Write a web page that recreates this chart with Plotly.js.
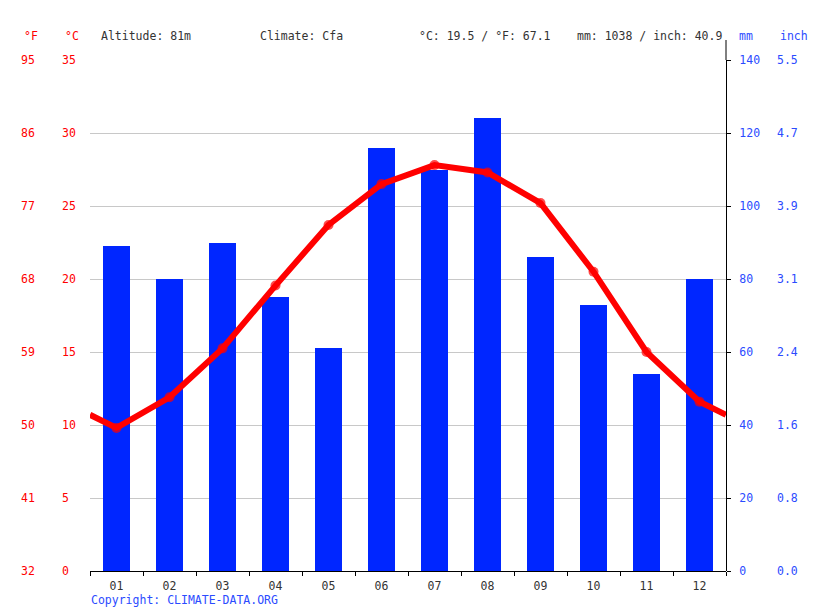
<!DOCTYPE html>
<html>
<head>
<meta charset="utf-8">
<script src="https://cdn.plot.ly/plotly-3.0.1.min.js"></script>
<style>html,body{margin:0;padding:0;background:#fff;}#chart{width:815px;height:611px;}</style>
</head>
<body>
<div id="chart"></div>
<script>
const months = ["01","02","03","04","05","06","07","08","09","10","11","12"];
const precipMm = [89, 80, 90, 75, 61, 116, 110, 124, 86, 73, 54, 80];
const tempC = [9.8, 11.9, 15.25, 19.55, 23.7, 26.5, 27.8, 27.3, 25.2, 20.5, 15.0, 11.6];
const cTicks = [0, 5, 10, 15, 20, 25, 30, 35];
const fTicks = [32, 41, 50, 59, 68, 77, 86, 95];
const mmTicks = [0, 20, 40, 60, 80, 100, 120, 140];
const inchTickText = ["0.0", "0.8", "1.6", "2.4", "3.1", "3.9", "4.7", "5.5"];

const W = 815, H = 611;
const L = 90, R = 726, T = 60, B = 571;
const px = v => v / W;
const py = v => (B - v) / (B - T);
const FONT = "DejaVu Sans Mono, monospace";
const RED = "#ff0000", BLUE = "#0026ff", LBLUE = "#2b4bff", GREY = "#333333";

const xNum = months.map((m, i) => i + 1);
const edge = (tempC[0] + tempC[11]) / 2;
const lineX = [0.5].concat(xNum, [12.5]);
const lineY = [edge].concat(tempC, [edge]);
const markerSizes = lineX.map((x, i) => (i === 0 || i === lineX.length - 1) ? 0 : 10);

const traces = [
  {type: "bar", x: xNum, y: precipMm, yaxis: "y", width: 0.52,
   marker: {color: BLUE, line: {width: 0}}, hoverinfo: "skip"},
  {type: "scatter", x: [1], y: [32], yaxis: "y3", mode: "markers", marker: {opacity: 0}, hoverinfo: "skip"},
  {type: "scatter", x: [1], y: [0], yaxis: "y4", mode: "markers", marker: {opacity: 0}, hoverinfo: "skip"},
  {type: "scatter", mode: "lines+markers", x: lineX, y: lineY, yaxis: "y2",
   line: {color: RED, width: 6}, marker: {color: RED, size: markerSizes, line: {width: 0}}, hoverinfo: "skip"}
];

const ann = (text, x, y, color) => ({text, x: px(x), y: py(y), xref: "paper", yref: "paper",
  xanchor: "left", yanchor: "middle", showarrow: false, font: {family: FONT, size: 11.5, color}});

const layout = {
  width: W, height: H,
  margin: {l: 0, r: 0, t: T, b: H - B, pad: 0},
  paper_bgcolor: "#fff", plot_bgcolor: "#fff",
  showlegend: false, bargap: 0,
  font: {family: FONT, size: 11.5},
  xaxis: {domain: [px(L), px(R)], range: [0.5, 12.5], tickvals: xNum, ticktext: months,
    ticks: "", showgrid: false, zeroline: false, showline: true, linecolor: "#000", linewidth: 1,
    tickfont: {family: FONT, size: 11.5, color: GREY}, ticklabelstandoff: 4,
    minor: {tickvals: xNum.map(v => v - 0.5).concat([12.5]), ticks: "outside", ticklen: 4, tickcolor: "#000", showgrid: false}},
  yaxis: {range: [0, 140], tickvals: mmTicks, anchor: "free", position: px(R), side: "right",
    showgrid: true, gridcolor: "#c8c8c8", gridwidth: 1, zeroline: false, showline: true, linecolor: "#000", linewidth: 1,
    ticks: "outside", ticklen: 4, tickcolor: "#000", ticklabelstandoff: 6,
    tickfont: {family: FONT, size: 11.5, color: LBLUE}},
  yaxis2: {range: [0, 35], tickvals: cTicks, overlaying: "y", anchor: "free", position: px(61), side: "right",
    showgrid: false, zeroline: false, showline: false, ticks: "",
    tickfont: {family: FONT, size: 11.5, color: RED}},
  yaxis3: {range: [32, 95], tickvals: fTicks, overlaying: "y", anchor: "free", position: px(20), side: "right",
    showgrid: false, zeroline: false, showline: false, ticks: "",
    tickfont: {family: FONT, size: 11.5, color: RED}},
  yaxis4: {range: [0, 140 / 25.4], tickvals: mmTicks.map(v => v / 25.4), ticktext: inchTickText,
    overlaying: "y", anchor: "free", position: px(776), side: "right",
    showgrid: false, zeroline: false, showline: false, ticks: "",
    tickfont: {family: FONT, size: 11.5, color: LBLUE}},
  shapes: [{type: "line", xref: "paper", yref: "paper", x0: px(R), x1: px(R), y0: py(T), y1: py(40),
    line: {color: "#000", width: 1}}],
  annotations: [
    ann("°F", 22, 36, RED),
    ann("°C", 63, 36, RED),
    ann("Altitude: 81m", 99, 36, GREY),
    ann("Climate: Cfa", 258, 36, GREY),
    ann("°C: 19.5 / °F: 67.1", 417, 36, GREY),
    ann("mm: 1038 / inch: 40.9", 575, 36, GREY),
    ann("mm", 737, 36, LBLUE),
    ann("inch", 778, 36, LBLUE),
    ann("Copyright: CLIMATE-DATA.ORG", 89, 600, LBLUE)
  ]
};

Plotly.newPlot("chart", traces, layout, {staticPlot: true, displayModeBar: false});
</script>
</body>
</html>
